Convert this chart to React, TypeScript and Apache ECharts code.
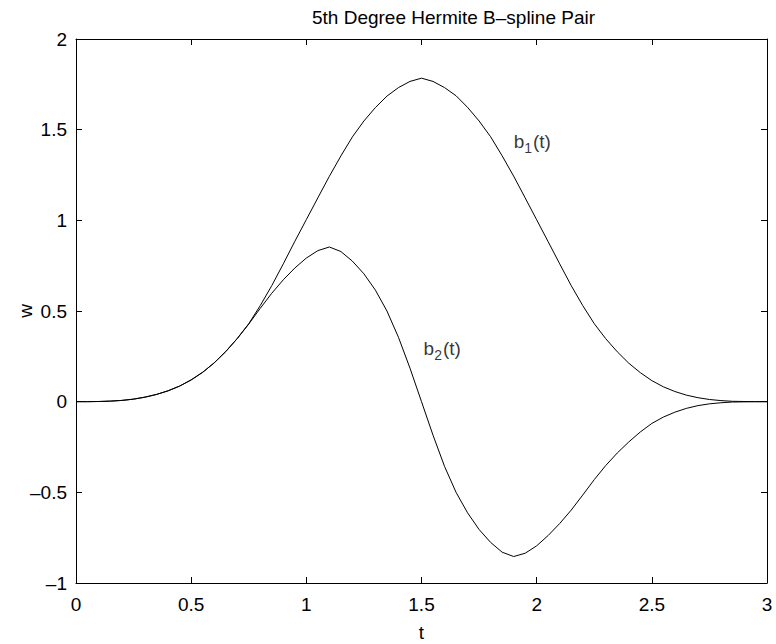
import React, { useEffect, useRef } from "react";
import * as echarts from "echarts";

const tValues = [
  0.0, 0.05, 0.1, 0.15, 0.2, 0.25, 0.3, 0.35, 0.4, 0.45,
  0.5, 0.55, 0.6, 0.65, 0.7, 0.75, 0.8, 0.85, 0.9, 0.95,
  1.0, 1.05, 1.1, 1.15, 1.2, 1.25, 1.3, 1.35, 1.4, 1.45,
  1.5, 1.55, 1.6, 1.65, 1.7, 1.75, 1.8, 1.85, 1.9, 1.95,
  2.0, 2.05, 2.1, 2.15, 2.2, 2.25, 2.3, 2.35, 2.4, 2.45,
  2.5, 2.55, 2.6, 2.65, 2.7, 2.75, 2.8, 2.85, 2.9, 2.95, 3.0,
];
const b1Values = [
  0, 0, 0.001, 0.003, 0.007, 0.014, 0.025, 0.04, 0.06, 0.086,
  0.12, 0.162, 0.214, 0.276, 0.348, 0.43, 0.53, 0.64, 0.76, 0.884,
  1.004, 1.124, 1.243, 1.355, 1.46, 1.548, 1.622, 1.685, 1.732, 1.766,
  1.784, 1.766, 1.732, 1.687, 1.623, 1.548, 1.461, 1.356, 1.244, 1.124,
  1.003, 0.882, 0.76, 0.64, 0.53, 0.43, 0.347, 0.275, 0.212, 0.16,
  0.116, 0.082, 0.056, 0.036, 0.022, 0.012, 0.006, 0.002, 0.001, 0, 0,
];
const b2Values = [
  0, 0, 0.001, 0.003, 0.007, 0.014, 0.025, 0.04, 0.06, 0.086,
  0.12, 0.162, 0.214, 0.276, 0.348, 0.428, 0.515, 0.598, 0.672, 0.737,
  0.792, 0.833, 0.853, 0.828, 0.775, 0.705, 0.615, 0.5, 0.355, 0.185,
  0.0, -0.185, -0.357, -0.5, -0.613, -0.705, -0.776, -0.83, -0.854, -0.836,
  -0.795, -0.738, -0.672, -0.598, -0.515, -0.43, -0.352, -0.283, -0.222, -0.167,
  -0.12, -0.085, -0.058, -0.037, -0.022, -0.012, -0.006, -0.002, -0.001, 0, 0,
];

const titleText = "5th Degree Hermite B\u2013spline Pair";
const xName = "t";
const yName = "w";
const b1Label = { t: 1.9, w: 1.435, sub: "1" };
const b2Label = { t: 1.509, w: 0.294, sub: "2" };

const FONT = "'Liberation Sans', Arial, Helvetica, sans-serif";
const FS = 19;
const SUB_FS = 14;

export default function App() {
  const ref = useRef<HTMLDivElement>(null);
  useEffect(() => {
    if (!ref.current) return;
    const chart = echarts.init(ref.current, null, { renderer: "svg" });
    const fmt = (v: number) => String(v).replace("-", "\u2013");
    const axisCommon = {
      type: "value" as const,
      min: 0,
      max: 3,
      interval: 0.5,
    };
    const lineStyle = { color: "#000", width: 1 };
    const txt = (text: string, size: number, dx: number, dy: number) => ({
      show: true,
      position: [0, 0],
      align: "left",
      verticalAlign: "middle",
      offset: [dx, dy],
      formatter: text,
      fontFamily: FONT,
      fontSize: size,
      color: "#000",
    });
    const bW = FS * 0.556;
    const subW = SUB_FS * 0.556;
    const labelItems = (l: { t: number; w: number; sub: string }) => [
      { value: [l.t, l.w], label: txt("b", FS, 0, 0) },
      { value: [l.t, l.w], label: txt(l.sub, SUB_FS, bW, 6.5) },
      { value: [l.t, l.w], label: txt("(t)", FS, bW + subW + 1, 0) },
    ];
    chart.setOption({
      animation: false,
      backgroundColor: "#fff",
      title: {
        text: titleText,
        left: 307,
        top: 3,
        textStyle: { fontFamily: FONT, fontSize: FS, fontWeight: "normal", color: "#000" },
      },
      grid: {
        left: 76,
        top: 39,
        right: 9,
        bottom: 61,
        containLabel: false,
        outerBoundsMode: "none",
      },
      xAxis: [
        {
          ...axisCommon,
          position: "bottom",
          name: xName,
          nameLocation: "middle",
          nameGap: 40,
          nameMoveOverlap: false,
          nameTextStyle: { fontFamily: FONT, fontSize: FS, color: "#000" },
          axisLine: { show: true, onZero: false, lineStyle },
          axisTick: { show: true, inside: true, length: 6, lineStyle },
          axisLabel: { show: true, margin: 12, fontFamily: FONT, fontSize: FS, color: "#000", formatter: fmt },
          splitLine: { show: false },
        },
        {
          ...axisCommon,
          position: "top",
          axisLine: { show: true, onZero: false, lineStyle },
          axisTick: { show: true, inside: true, length: 6, lineStyle },
          axisLabel: { show: false },
          splitLine: { show: false },
        },
      ],
      yAxis: [
        {
          type: "value",
          min: -1,
          max: 2,
          interval: 0.5,
          position: "left",
          name: yName,
          nameLocation: "middle",
          nameGap: 41,
          nameRotate: 90,
          nameMoveOverlap: false,
          nameTextStyle: { fontFamily: FONT, fontSize: FS, color: "#000" },
          axisLine: { show: true, onZero: false, lineStyle },
          axisTick: { show: true, inside: true, length: 6, lineStyle },
          axisLabel: { show: true, margin: 9, fontFamily: FONT, fontSize: FS, color: "#000", formatter: fmt },
          splitLine: { show: false },
        },
        {
          type: "value",
          min: -1,
          max: 2,
          interval: 0.5,
          position: "right",
          axisLine: { show: true, onZero: false, lineStyle },
          axisTick: { show: true, inside: true, length: 6, lineStyle },
          axisLabel: { show: false },
          splitLine: { show: false },
        },
      ],
      series: [
        {
          name: "b1",
          type: "line",
          data: tValues.map((t, i) => [t, b1Values[i]]),
          showSymbol: false,
          smooth: false,
          lineStyle,
          silent: true,
        },
        {
          name: "b2",
          type: "line",
          data: tValues.map((t, i) => [t, b2Values[i]]),
          showSymbol: false,
          smooth: false,
          lineStyle,
          silent: true,
        },
        {
          name: "labels",
          type: "scatter",
          symbolSize: 0,
          silent: true,
          data: [...labelItems(b1Label), ...labelItems(b2Label)],
        },
      ],
    });
    return () => chart.dispose();
  }, []);
  return (
    <div
      ref={ref}
      style={{ position: "fixed", left: 0, top: 0, width: 776, height: 644, background: "#fff" }}
    />
  );
}
